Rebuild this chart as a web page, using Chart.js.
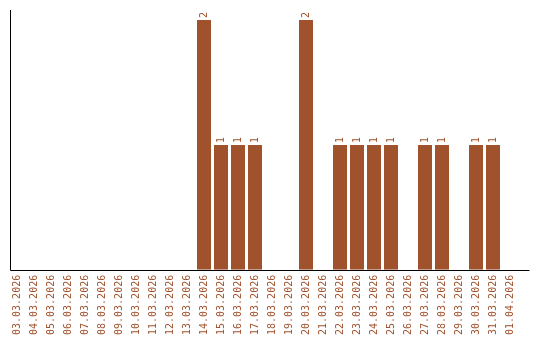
<!DOCTYPE html>
<html>
<head>
<meta charset="utf-8">
<script src="https://cdn.jsdelivr.net/npm/chart.js@4/dist/chart.umd.min.js"></script>
<style>
html,body{margin:0;padding:0;background:#fff;}
#wrap{width:540px;height:340px;position:relative;}
</style>
</head>
<body>
<div id="wrap"><canvas id="c" width="540" height="340"></canvas></div>
<script>
const categories = ["03.03.2026","04.03.2026","05.03.2026","06.03.2026","07.03.2026","08.03.2026","09.03.2026","10.03.2026","11.03.2026","12.03.2026","13.03.2026","14.03.2026","15.03.2026","16.03.2026","17.03.2026","18.03.2026","19.03.2026","20.03.2026","21.03.2026","22.03.2026","23.03.2026","24.03.2026","25.03.2026","26.03.2026","27.03.2026","28.03.2026","29.03.2026","30.03.2026","31.03.2026","01.04.2026"];
const values = [0,0,0,0,0,0,0,0,0,0,0,2,1,1,1,0,0,2,0,1,1,1,1,0,1,1,0,1,1,0];

const COLOR = '#a0522d';
const FONT = '"DejaVu Sans Mono", monospace';

const axesPlugin = {
  id: 'axesPlugin',
  afterDatasetsDraw(chart) {
    const ctx = chart.ctx;
    const a = chart.chartArea;
    const ys = chart.scales.y;
    const y0 = Math.round(ys.getPixelForValue(0)) + 0.5;
    ctx.save();
    ctx.strokeStyle = '#000';
    ctx.lineWidth = 1;
    ctx.beginPath();
    ctx.moveTo(10.5, a.top - 10);
    ctx.lineTo(10.5, y0);
    ctx.lineTo(a.right + 11, y0);
    ctx.stroke();
    // value labels
    const meta = chart.getDatasetMeta(0);
    ctx.fillStyle = COLOR;
    ctx.font = '10px ' + FONT;
    ctx.textAlign = 'left';
    ctx.textBaseline = 'middle';
    meta.data.forEach((bar, i) => {
      const v = values[i];
      if (!v) return;
      ctx.save();
      ctx.translate(bar.x, bar.y - 2);
      ctx.rotate(-Math.PI / 2);
      ctx.fillText(String(v), 0, 0);
      ctx.restore();
    });
    ctx.restore();
  }
};

new Chart(document.getElementById('c'), {
  type: 'bar',
  data: {
    labels: categories,
    datasets: [{
      data: values,
      backgroundColor: COLOR,
      borderWidth: 0,
      barPercentage: 1,
      categoryPercentage: 14 / 17
    }]
  },
  options: {
    responsive: false,
    animation: false,
    devicePixelRatio: 1,
    layout: { padding: { left: 8.5, right: 21.5, top: 20, bottom: 0 } },
    plugins: { legend: { display: false }, tooltip: { enabled: false } },
    scales: {
      x: {
        grid: { display: false, drawTicks: false },
        border: { display: false },
        ticks: {
          color: COLOR,
          font: { family: FONT, size: 10 },
          minRotation: 90,
          maxRotation: 90,
          autoSkip: false,
          padding: 5
        }
      },
      y: {
        display: false,
        min: 0,
        max: 2,
        grid: { display: false }
      }
    }
  },
  plugins: [axesPlugin]
});
</script>
</body>
</html>
